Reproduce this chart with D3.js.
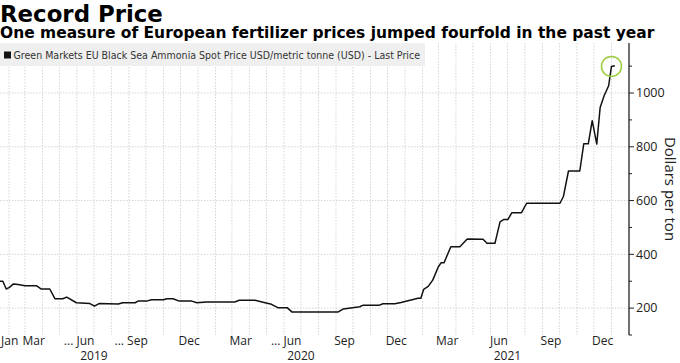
<!DOCTYPE html>
<html>
<head>
<meta charset="utf-8">
<script src="https://cdn.jsdelivr.net/npm/d3@7"></script>
<style>
  body { margin: 0; background: #fff; }
  svg { display: block; }
</style>
</head>
<body>
<svg id="chart"></svg>
<script>
// Chart data (weekly series, vertices only)
var dates = ["2019-01-16","2019-01-21","2019-01-27","2019-02-01","2019-02-09","2019-02-17","2019-03-01","2019-03-22",
  "2019-03-30","2019-04-14","2019-04-23","2019-05-07","2019-05-14","2019-05-31","2019-06-24","2019-07-02",
  "2019-07-10","2019-08-13","2019-08-21","2019-09-12","2019-09-17","2019-10-02","2019-10-11","2019-11-01",
  "2019-11-07","2019-11-18","2019-11-29","2019-12-21","2019-12-30","2020-01-16","2020-03-06","2020-03-14",
  "2020-04-11","2020-04-25","2020-05-10","2020-05-22","2020-06-07","2020-06-15","2020-09-05","2020-09-14",
  "2020-10-13","2020-10-19","2020-11-17","2020-11-23","2020-12-14","2020-12-25","2021-01-24","2021-01-29",
  "2021-02-03","2021-02-11","2021-02-19","2021-03-01","2021-03-06","2021-03-11","2021-03-23","2021-04-08",
  "2021-04-21","2021-05-19","2021-05-26","2021-06-09","2021-06-18","2021-06-25","2021-07-02","2021-07-09",
  "2021-07-26","2021-08-04","2021-10-02","2021-10-08","2021-10-17","2021-11-06","2021-11-13","2021-11-21",
  "2021-11-28","2021-12-06","2021-12-12","2021-12-19","2021-12-27","2022-01-01","2022-01-07"];
var prices = [300,300,271,276,290,288,283,283,
  271,271,235,235,241,220,217,207,
  217,215,220,220,226,226,231,231,
  235,235,226,226,220,223,223,229,
  229,222,214,201,201,186,186,197,
  205,211,211,216,216,221,237,237,
  270,281,304,354,369,369,428,428,
  457,456,441,441,521,530,530,555,
  555,590,590,615,710,710,811,811,
  897,810,946,990,1027,1099,1101];

var monthTicks = ["2019-01","2019-03","2019-06","2019-09","2019-12","2020-03","2020-06","2020-09","2020-12","2021-03","2021-06","2021-09","2021-12"];
var monthNames = ["Jan","Mar","Jun","Sep","Dec","Mar","Jun","Sep","Dec","Mar","Jun","Sep","Dec"];
var monthPrefix = ["","","... ","... ","","","... ","","","","","",""];
var years = ["2019","2020","2021"];
var yMajor = [200,400,600,800,1000];
var yMinor = [100,300,500,700,900,1100];

var title = "Record Price";
var subtitle = "One measure of European fertilizer prices jumped fourfold in the past year";
var legendText = "Green Markets EU Black Sea Ammonia Spot Price USD/metric tonne (USD) - Last Price";
var yTitle = "Dollars per ton";

var width = 680, height = 363;
var parse = d3.timeParse("%Y-%m-%d");
var parseMonth = d3.timeParse("%Y-%m");
var data = dates.map((d, i) => ({date: parse(d), value: prices[i]}));

var svg = d3.select("#chart")
    .attr("width", width)
    .attr("height", height);

var plotLeft = 0, plotRight = 629, plotTop = 43, plotBottom = 335;

var x = d3.scaleTime()
    .domain([parse("2019-01-16"), parse("2022-02-01")])
    .range([plotLeft, plotRight]);
var y = d3.scaleLinear()
    .domain([100, 1186])
    .range([plotBottom, plotTop]);

var tickFont = "'Open Sans', 'Liberation Sans', sans-serif";
var gridColor = "#d4d4d4";

//Shrink or grow a text's font so it spans the given width
function fitWidth(sel, target) {
    var size = +sel.attr("font-size");
    var w = sel.node().getComputedTextLength();
    sel.attr("font-size", size * target / w);
}

//Vertical gridlines at every month start
var monthStarts = d3.timeMonth.range(parse("2019-02-01"), parse("2022-01-02"));
svg.append("g").selectAll("line")
    .data(monthStarts)
    .enter().append("line")
    .attr("x1", d => x(d)).attr("x2", d => x(d))
    .attr("y1", plotTop).attr("y2", plotBottom)
    .attr("stroke", gridColor)
    .attr("stroke-dasharray", "1.5,1.5");

//Horizontal gridlines at major ticks
svg.append("g").selectAll("line")
    .data(yMajor)
    .enter().append("line")
    .attr("x1", plotLeft).attr("x2", plotRight)
    .attr("y1", d => y(d)).attr("y2", d => y(d))
    .attr("stroke", gridColor)
    .attr("stroke-dasharray", "1.5,1.5");

//Legend box
var legend = svg.append("g");
legend.append("rect")
    .attr("x", 0).attr("y", 43)
    .attr("width", 425).attr("height", 23)
    .attr("fill", "#efefef");
legend.append("rect")
    .attr("x", 4).attr("y", 51.5)
    .attr("width", 7).attr("height", 7)
    .attr("fill", "#111");
var legendLabel = legend.append("text")
    .attr("x", 13.5).attr("y", 59)
    .attr("font-family", "'Liberation Sans Narrow', 'DejaVu Sans Condensed', sans-serif")
    .attr("font-size", 12)
    .attr("fill", "#333")
    .text(legendText);
fitWidth(legendLabel, 407);

//Price line
var line = d3.line()
    .x(d => x(d.date))
    .y(d => y(d.value));
svg.append("path")
    .datum(data)
    .attr("d", line)
    .attr("fill", "none")
    .attr("stroke", "#111")
    .attr("stroke-width", 1.5)
    .attr("stroke-linejoin", "round");

//Highlight circle around the record
var peak = data[data.length - 2];
svg.append("circle")
    .attr("cx", x(peak.date))
    .attr("cy", y(peak.value))
    .attr("r", 10)
    .attr("fill", "none")
    .attr("stroke", "#9ccc3c")
    .attr("stroke-width", 1.5);

//Right y axis
var yAxis = svg.append("g");
yAxis.append("line")
    .attr("x1", plotRight).attr("x2", plotRight)
    .attr("y1", plotTop).attr("y2", plotBottom)
    .attr("stroke", "#222")
    .attr("stroke-width", 1.3);
yAxis.selectAll(".minor")
    .data(yMinor)
    .enter().append("line")
    .attr("x1", plotRight).attr("x2", plotRight + 3)
    .attr("y1", d => y(d)).attr("y2", d => y(d))
    .attr("stroke", "#222");
yAxis.selectAll(".major")
    .data(yMajor)
    .enter().append("line")
    .attr("x1", plotRight).attr("x2", plotRight + 5)
    .attr("y1", d => y(d)).attr("y2", d => y(d))
    .attr("stroke", "#222");
yAxis.selectAll("text")
    .data(yMajor)
    .enter().append("text")
    .attr("x", plotRight + 7)
    .attr("y", d => y(d))
    .attr("dy", "0.35em")
    .attr("font-family", tickFont)
    .attr("font-size", 12.5)
    .attr("fill", "#222")
    .text(d => d);

svg.append("text")
    .attr("transform", "translate(665," + (plotTop + plotBottom) / 2 + ") rotate(90)")
    .attr("text-anchor", "middle")
    .attr("font-family", tickFont)
    .attr("font-size", 15)
    .attr("fill", "#222")
    .text(yTitle);

//Month labels, centred in their month
var monthG = svg.append("g");
monthTicks.forEach(function(m, i) {
    var start = parseMonth(m);
    var end = d3.timeMonth.offset(start, 1);
    var cx = (x(start) + x(end)) / 2;
    var t = monthG.append("text")
        .attr("y", 345)
        .attr("font-family", tickFont)
        .attr("font-size", 12)
        .attr("fill", "#222")
        .text(monthNames[i]);
    var w = t.node().getComputedTextLength();
    var right = Math.max(cx + w / 2, w + 1);
    t.attr("x", right).attr("text-anchor", "end")
        .text(monthPrefix[i] + monthNames[i]);
});

//Year labels under mid-year
svg.append("g").selectAll("text")
    .data(years)
    .enter().append("text")
    .attr("x", d => x(parse(d + "-07-01")))
    .attr("y", 359.5)
    .attr("text-anchor", "middle")
    .attr("font-family", tickFont)
    .attr("font-size", 12)
    .attr("fill", "#222")
    .text(d => d);

//Title and subtitle
var titleText = svg.append("text")
    .attr("x", 0).attr("y", 21.5)
    .attr("font-family", "'DejaVu Sans', sans-serif")
    .attr("font-weight", "bold")
    .attr("font-size", 22)
    .attr("fill", "#000")
    .text(title);
fitWidth(titleText, 163);
var subtitleText = svg.append("text")
    .attr("x", 0).attr("y", 37.5)
    .attr("font-family", "'DejaVu Sans', sans-serif")
    .attr("font-weight", "bold")
    .attr("font-size", 14)
    .attr("fill", "#000")
    .text(subtitle);
fitWidth(subtitleText, 655);
</script>
</body>
</html>
